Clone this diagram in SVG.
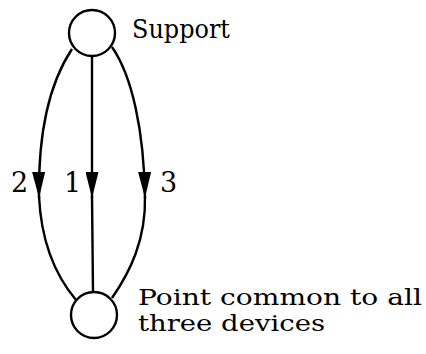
<svg xmlns="http://www.w3.org/2000/svg" width="426" height="354" viewBox="0 0 426 354">
<style>
.node{fill:#fff;stroke:#000;stroke-width:2.4}
.edge{fill:none;stroke:#000;stroke-width:2.4}
.lbl{font-family:"DejaVu Serif","Liberation Serif",serif;font-size:23px;fill:#000}
.num{font-size:27px}
.sup{font-size:26px}
</style>
<defs>
<marker id="ah" markerUnits="userSpaceOnUse" markerWidth="27" markerHeight="13" refX="26" refY="6.5" orient="auto">
<path d="M0,0 L26,6.5 L0,13 Z" fill="#000"/>
</marker>
</defs>
<rect width="426" height="354" fill="#fff"/>
<g id="connectors">
<path class="edge" d="M72,49 C50,82 38,130 39,198" marker-end="url(#ah)"/>
<path class="edge" d="M39,196 C41,240 55,275 76,300"/>
<path class="edge" d="M92,56 L92,198" marker-end="url(#ah)"/>
<path class="edge" d="M92,196 L93,292"/>
<path class="edge" d="M112,47 C132,76 144,130 145,198" marker-end="url(#ah)"/>
<path class="edge" d="M145,196 C146,240 130,272 112,298"/>
<text class="lbl num" x="11" y="192">2</text>
<text class="lbl num" x="64" y="192">1</text>
<text class="lbl num" x="160" y="192">3</text>
</g>
<g id="support">
<circle class="node" cx="92" cy="33" r="23"/>
<text class="lbl sup" x="132" y="38" textLength="98" lengthAdjust="spacingAndGlyphs">Support</text>
</g>
<g id="common">
<circle class="node" cx="94" cy="315" r="23"/>
<text class="lbl" x="138" y="305" textLength="284" lengthAdjust="spacingAndGlyphs">Point common to all</text>
<text class="lbl" x="138" y="331" textLength="187" lengthAdjust="spacingAndGlyphs">three devices</text>
</g>
</svg>
